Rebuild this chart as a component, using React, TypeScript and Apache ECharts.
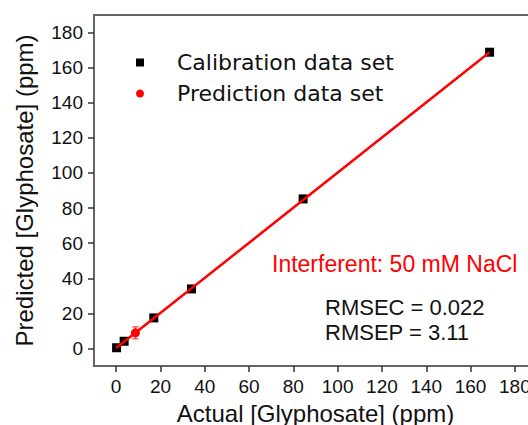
import React, { useEffect, useRef } from "react";
import * as echarts from "echarts";

// Calibration data set (actual, predicted)
const calActual = [0.2, 3.6, 17.0, 34.0, 84.4, 168.6];
const calPredicted = [0.4, 4.1, 17.4, 33.9, 85.2, 168.8];
// Prediction data set (actual, predicted, error)
const predActual = [8.7];
const predPredicted = [8.9];
const predError = [3.4];
// Fit line end points
const fitX = [0, 168.6];
const fitY = [0.2, 168.8];
// Axis ticks
const tickValues = [0, 20, 40, 60, 80, 100, 120, 140, 160, 180];

const FONT = "'Liberation Sans', Arial, sans-serif";

export default function App() {
  const ref = useRef<HTMLDivElement>(null);
  useEffect(() => {
    if (!ref.current) return;
    const chart = echarts.init(ref.current, undefined, { renderer: "svg" });
    const calData = calActual.map((x, i) => [x, calPredicted[i]]);
    const predData = predActual.map((x, i) => [x, predPredicted[i]]);
    const errData = predActual.map((x, i) => [
      x,
      predPredicted[i],
      predPredicted[i] - predError[i],
      predPredicted[i] + predError[i],
    ]);
    const fitData = fitX.map((x, i) => [x, fitY[i]]);
    const axisCommon = {
      type: "value" as const,
      min: -10,
      max: 190,
      splitLine: { show: false },
      axisLine: { show: true, onZero: false, lineStyle: { color: "#666", width: 2 } },
      axisTick: {
        show: true,
        inside: false,
        length: 6,
        customValues: tickValues,
        lineStyle: { color: "#333", width: 1.5 },
      },
      axisLabel: {
        customValues: tickValues,
        color: "#111",
        fontSize: 19,
        fontFamily: FONT,
      },
      nameLocation: "middle" as const,
      nameTextStyle: { color: "#111", fontSize: 24, fontFamily: FONT },
    };
    chart.setOption({
      animation: false,
      backgroundColor: "#fff",
      grid: {
        left: 94,
        top: 15,
        width: 443,
        height: 351,
        containLabel: false,
        outerBoundsMode: "none",
        show: true,
        borderColor: "#666",
        borderWidth: 2,
      },
      xAxis: {
        ...axisCommon,
        name: "Actual [Glyphosate] (ppm)",
        nameGap: 35,
        axisLabel: { ...axisCommon.axisLabel, margin: 11 },
      },
      yAxis: {
        ...axisCommon,
        name: "Predicted [Glyphosate] (ppm)",
        nameGap: 58,
        axisLabel: { ...axisCommon.axisLabel, margin: 11 },
      },
      legend: {
        orient: "vertical",
        left: 136,
        top: 49,
        padding: 0,
        itemWidth: 8,
        itemHeight: 8,
        itemGap: 4,
        data: [
          { name: "Calibration data set", icon: "rect", itemStyle: { color: "#000", opacity: 1 } },
          { name: "Prediction data set", icon: "circle", itemStyle: { color: "#ff0000", opacity: 1 } },
        ],
        textStyle: {
          color: "#111",
          fontSize: 22,
          lineHeight: 27,
          fontFamily: "'DejaVu Sans', sans-serif",
          padding: [0, 0, 0, 28],
        },
      },
      series: [
        {
          name: "Calibration data set",
          type: "scatter",
          data: calData,
          symbol: "rect",
          symbolSize: 9,
          itemStyle: { color: "#000", opacity: 1 },
          z: 2,
        },
        {
          name: "Prediction error",
          type: "custom",
          data: errData,
          z: 3,
          renderItem: (params: any, api: any) => {
            const x = api.value(0);
            const lo = api.value(2);
            const hi = api.value(3);
            const p = api.coord([x, hi]);
            const q = api.coord([x, lo]);
            const style = { stroke: "#ff5a5a", lineWidth: 1.5 };
            return {
              type: "group",
              children: [
                { type: "line", shape: { x1: p[0], y1: p[1], x2: q[0], y2: q[1] }, style },
                { type: "line", shape: { x1: p[0] - 3, y1: p[1], x2: p[0] + 3, y2: p[1] }, style },
                { type: "line", shape: { x1: q[0] - 3, y1: q[1], x2: q[0] + 3, y2: q[1] }, style },
              ],
            };
          },
        },
        {
          name: "Prediction data set",
          type: "scatter",
          data: predData,
          symbol: "circle",
          symbolSize: 9,
          itemStyle: { color: "#ff0000", opacity: 1 },
          z: 4,
        },
        {
          name: "Fit",
          type: "line",
          data: fitData,
          showSymbol: false,
          symbol: "none",
          lineStyle: { color: "#ff0000", width: 2.5 },
          z: 5,
        },
      ],
      graphic: [
        {
          type: "text",
          left: 272,
          top: 252,
          style: {
            text: "Interferent: 50 mM NaCl",
            fill: "#ff0000",
            fontSize: 23,
            fontFamily: FONT,
          },
        },
        {
          type: "text",
          left: 325,
          top: 295,
          style: {
            text: "RMSEC = 0.022\nRMSEP = 3.11",
            fill: "#111",
            fontSize: 22,
            lineHeight: 25,
            fontFamily: FONT,
          },
        },
      ],
    });
    return () => chart.dispose();
  }, []);
  return (
    <div style={{ position: "absolute", left: 0, top: 0, width: 528, height: 425, overflow: "hidden" }}>
      <div ref={ref} style={{ width: 550, height: 425 }} />
    </div>
  );
}
